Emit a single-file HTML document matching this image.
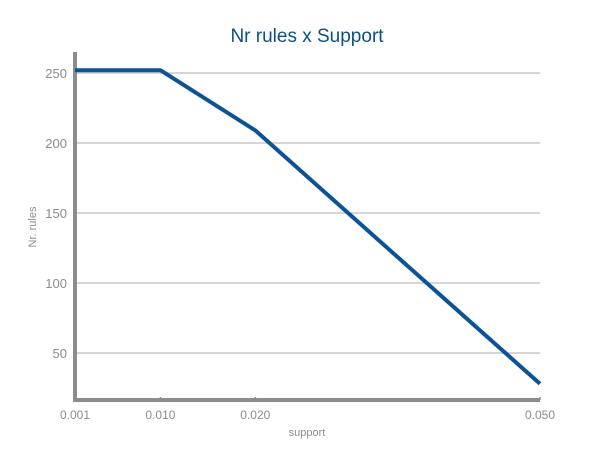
<!DOCTYPE html>
<html><head><meta charset="utf-8"><style>
html,body{margin:0;padding:0;background:#fff;}
svg{display:block;font-family:"Liberation Sans",sans-serif;}
</style></head><body>
<svg id="chart" width="600" height="450">
<text x="307" y="42" text-anchor="middle" font-size="19" fill="#0d4f8b">Nr rules x Support</text>
<g id="grid"></g>
<g id="yticks"></g>
<g id="xticks"></g>
<line x1="75" y1="52" x2="75" y2="401" stroke="#8c8c8c" stroke-width="4"/>
<line x1="73" y1="400" x2="540" y2="400" stroke="#8c8c8c" stroke-width="4"/>
<path id="line" fill="none" stroke="#0b5394" stroke-width="4" stroke-linejoin="round"/>
<text x="307" y="436" text-anchor="middle" font-size="11" fill="#8c8c8c">support</text>
<text transform="translate(36,227) rotate(-90)" text-anchor="middle" font-size="11" fill="#8c8c8c">Nr. rules</text>
</svg>
<script>
const xValues=[0.001,0.010,0.020,0.050];
const xLabels=["0.001","0.010","0.020","0.050"];
const yValues=[252,252,209,28];
const yTicks=[50,100,150,200,250];
const NS="http://www.w3.org/2000/svg";
function sx(v){return 75+(v-0.001)*(465/0.049);}
function sy(v){return 423-v*1.4;}
const grid=document.getElementById('grid'),yt=document.getElementById('yticks'),xt=document.getElementById('xticks');
yTicks.forEach(t=>{
 const l=document.createElementNS(NS,'line');
 l.setAttribute('x1',75);l.setAttribute('x2',540);l.setAttribute('y1',sy(t));l.setAttribute('y2',sy(t));
 l.setAttribute('stroke','#c8c8c8');l.setAttribute('stroke-width','1.5');
 
 
 grid.appendChild(l);
 const tx=document.createElementNS(NS,'text');
 tx.setAttribute('x',67);tx.setAttribute('y',sy(t)+5);tx.setAttribute('text-anchor','end');
 tx.setAttribute('font-size','13');tx.setAttribute('fill','#8c8c8c');tx.textContent=t;
 
 
 yt.appendChild(tx);
});
xValues.forEach((v,i)=>{
 const tk=document.createElementNS(NS,'line');
 tk.setAttribute('x1',sx(v));tk.setAttribute('x2',sx(v));tk.setAttribute('y1',397);tk.setAttribute('y2',400);
 tk.setAttribute('stroke','#8c8c8c');tk.setAttribute('stroke-width','1.5');
 
 
 xt.appendChild(tk);
 const tx=document.createElementNS(NS,'text');
 tx.setAttribute('x',sx(v));tx.setAttribute('y',419);tx.setAttribute('text-anchor','middle');
 tx.setAttribute('font-size','12');tx.setAttribute('fill','#8c8c8c');tx.textContent=xLabels[i];
 
 
 xt.appendChild(tx);
});
document.getElementById('line').setAttribute('d',xValues.map((v,i)=>(i?'L':'M')+sx(v)+','+sy(yValues[i])).join(' '));
</script>
</body></html>
